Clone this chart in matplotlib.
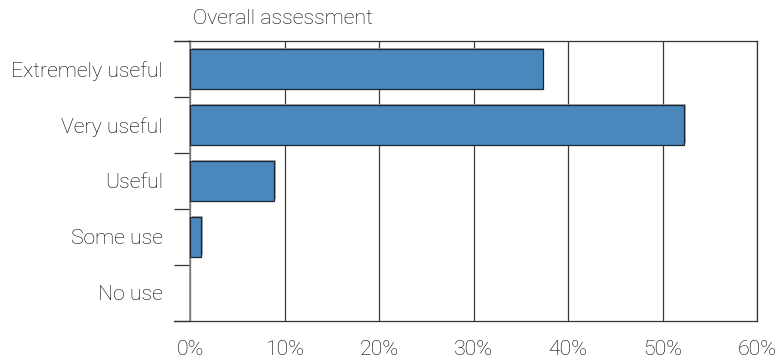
import matplotlib.pyplot as plt
import matplotlib.patheffects as pe
import numpy as np

categories = ["Extremely useful", "Very useful", "Useful", "Some use", "No use"]
values = [37.3, 52.3, 8.9, 1.2, 0.0]
xticks = [0, 10, 20, 30, 40, 50, 60]
xticklabels = ["0%", "10%", "20%", "30%", "40%", "50%", "60%"]

plt.rcParams['font.family'] = ['Roboto', 'DejaVu Sans']
txt = "#000000"
fs = 15.3
fw = 'light'

fig = plt.figure(figsize=(7.75, 3.61), dpi=100)
ax = fig.add_axes([174/775, 1 - 321/361, (757 - 174)/775, 280/361])

y = np.arange(len(categories))
bars = ax.barh(y, values, height=0.7, color="#4a87bd", edgecolor="#1c2533",
               linewidth=0.9, zorder=3)
for b, v in zip(bars, values):
    if v == 0:
        b.set_visible(False)
    b.set_path_effects([pe.SimplePatchShadow(offset=(1.2, 1.2), shadow_rgbFace="#9a9a9a", alpha=0.8),
                        pe.Normal()])

ax.set_xlim(-1.7, 60)
ax.set_ylim(len(categories) - 0.5, -0.5)

ax.set_xticks(xticks)
ax.set_xticklabels(xticklabels, fontsize=fs, color=txt, fontweight=fw)
ax.tick_params(axis='x', length=0, pad=14)
ax.grid(axis='x', color="#3a3a3a", linewidth=0.9, zorder=1)

ax.spines['left'].set_position(('data', 0))
ax.spines['left'].set_color("#888888")
ax.spines['left'].set_linewidth(1.2)
ax.spines['left'].set_zorder(2)
for s in ['top', 'bottom', 'right']:
    ax.spines[s].set_color("#333333")
    ax.spines[s].set_linewidth(0.9)

ax.set_yticks(y)
ax.set_yticklabels(categories, fontsize=fs, color=txt, fontweight=fw)
ax.set_yticks(np.arange(len(categories) + 1) - 0.5, minor=True)
ax.tick_params(axis='y', which='major', length=0, pad=19.5)
ax.tick_params(axis='y', which='minor', length=11.5, width=0.9, color="#333333", direction='out')

fig.text(193/775, 1 - 18/361, "Overall assessment", fontsize=fs, color=txt,
         fontweight=fw, ha='left', va='center')

fig.savefig("out.png", dpi=100)
